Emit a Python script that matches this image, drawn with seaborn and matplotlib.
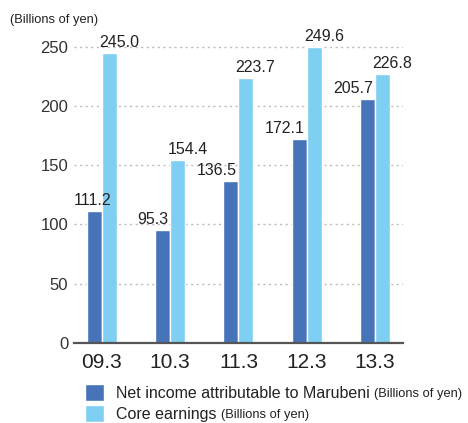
import seaborn as sns
import pandas as pd
import matplotlib.pyplot as plt

# values (billions of yen)
years = ["09.3", "10.3", "11.3", "12.3", "13.3"]
net_income = [111.2, 95.3, 136.5, 172.1, 205.7]
core_earnings = [245.0, 154.4, 223.7, 249.6, 226.8]
series_names = ["Net income attributable to Marubeni", "Core earnings"]

# label alignment for the dark bar values
net_label_ha = ["center", "right", "right", "right", "right"]

sns.set_style("white")
plt.rcParams['font.family'] = ['Liberation Sans', 'DejaVu Sans']

df = pd.DataFrame({
    "year": years * 2,
    "value": net_income + core_earnings,
    "series": [series_names[0]] * len(years) + [series_names[1]] * len(years),
})

fig = plt.figure(figsize=(4.68, 4.23), dpi=100)
ax = fig.add_axes([0.158, 0.189, 0.703, 0.740])

sns.barplot(data=df, x="year", y="value", hue="series", palette=["#4773B9", "#7FCFF2"],
            width=0.44, errorbar=None, legend=False, ax=ax, saturation=1)

ax.set_xlim(-0.41, 4.41)
ax.set_ylim(0, 264)
ax.set_yticks([0, 50, 100, 150, 200, 250])
ax.set_xlabel("")
ax.set_ylabel("")
ax.grid(axis="y", linestyle=(0, (1.5, 2.5)), color="#bbbbbb", linewidth=1)
ax.set_axisbelow(True)
for s in ["top", "right", "left"]:
    ax.spines[s].set_visible(False)
ax.spines["bottom"].set_color("#555555")
ax.spines["bottom"].set_linewidth(1.6)
ax.spines["bottom"].set_zorder(5)
ax.tick_params(axis="y", length=0, pad=4, labelsize=12, labelcolor="#333333")
ax.tick_params(axis="x", length=0, pad=7, labelsize=15, labelcolor="#222222")

dark, light = ax.containers[0], ax.containers[1]
for bar, val, ha in zip(dark, net_income, net_label_ha):
    x = bar.get_x() + bar.get_width() if ha == "right" else bar.get_x() + bar.get_width() / 2
    ax.annotate(f"{val:.1f}", xy=(x, bar.get_height()), xytext=(-1.5, 2),
                textcoords="offset points", ha=ha, va="bottom", fontsize=11.5, color="#222222")
for bar, val in zip(light, core_earnings):
    ax.annotate(f"{val:.1f}", xy=(bar.get_x(), bar.get_height()), xytext=(-2, 2),
                textcoords="offset points", ha="left", va="bottom", fontsize=11.5, color="#222222")

fig.text(0.021, 1 - 20 / 423, "(Billions of yen)", fontsize=9.3, color="#222222", va="center")

leg = fig.legend(handles=[dark, light], labels=series_names, loc="upper left",
                 bbox_to_anchor=(85 / 468, 1 - 384 / 423), bbox_transform=fig.transFigure,
                 frameon=False, fontsize=11.5, handlelength=1.2, handleheight=1.25,
                 handletextpad=0.75, labelspacing=0.25, borderpad=0, borderaxespad=0)
for t in leg.get_texts():
    t.set_color("#222222")
    fig.canvas.draw()
    ax.annotate("(Billions of yen)", xy=(1, 0), xycoords=t, xytext=(3, 0.5),
                textcoords="offset points", ha="left", va="bottom", fontsize=9.3,
                color="#222222", annotation_clip=False)

fig.savefig("out.png", dpi=100)
